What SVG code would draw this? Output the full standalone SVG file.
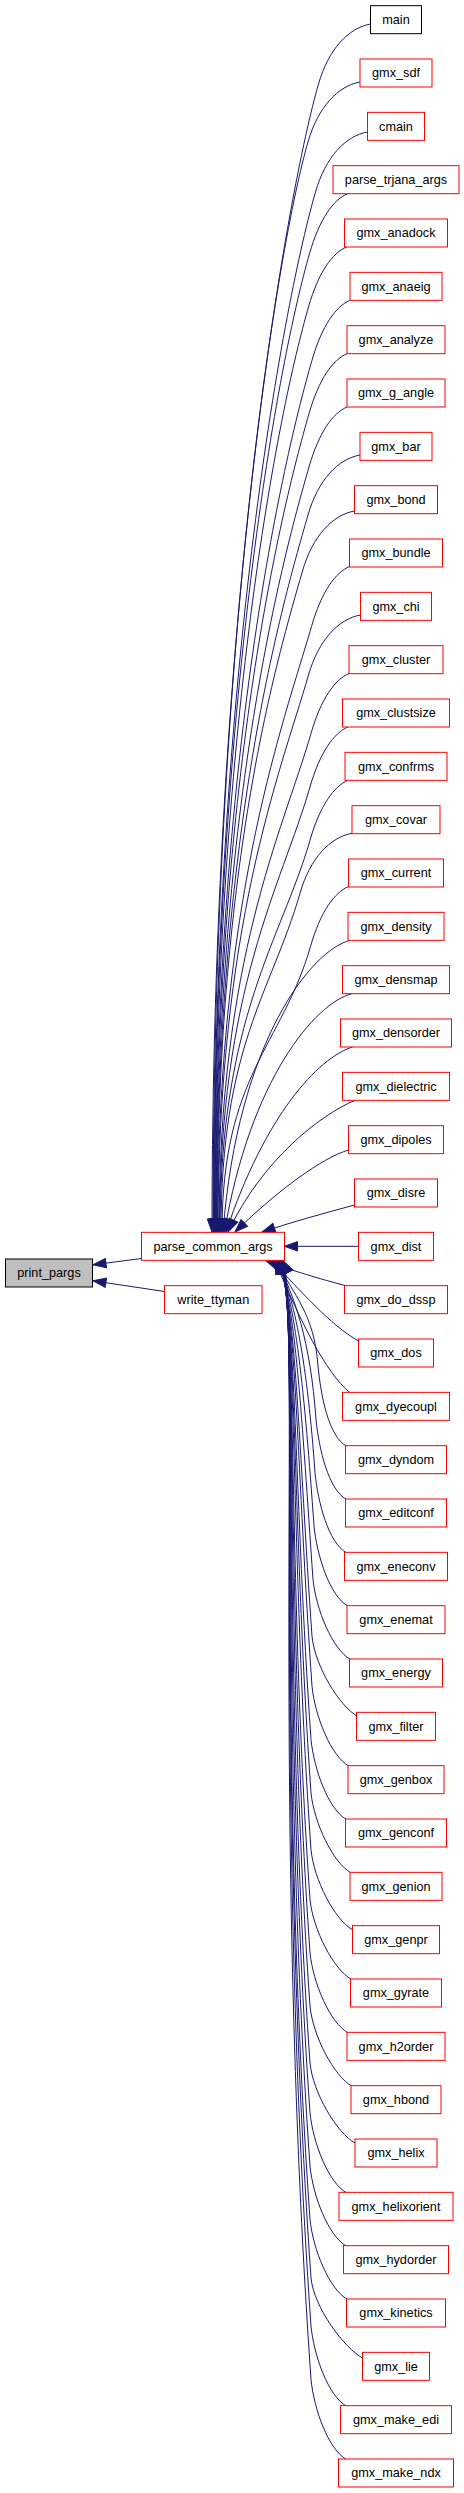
<svg xmlns="http://www.w3.org/2000/svg" width="464" height="2493" viewBox="0 0 464 2493">
<style>
.n rect{fill:#fff;stroke:#ff0000;stroke-width:1}
.n text{font-family:"Liberation Sans",Arial,Helvetica,sans-serif;font-size:12.7px;text-anchor:middle;fill:#000}
.e path{fill:none;stroke:#191970;stroke-width:1;marker-end:url(#ah)}
</style>
<defs>
<marker id="ah" viewBox="0 0 13 9.4" refX="13" refY="4.7" markerWidth="13" markerHeight="9.4" markerUnits="userSpaceOnUse" orient="auto" overflow="visible"><path d="M0,0 L13,4.7 L0,9.4 Z" fill="#191970" stroke="#191970" stroke-width="1"/></marker>
</defs>
<rect x="0" y="0" width="464" height="2493" fill="#fff"/>
<g id="edges" class="e">
<path d="M141.5,1258.5 L93,1264.8"/>
<path d="M164.5,1291.5 L93,1280.8"/>
<path d="M370.5,24 C348.5,28 328.5,49 318.5,84 C289.5,184 212,600.6 212,1232"/>
<path d="M360,82 C338,86 318,107 308,142 C279,242 213,632.5 213,1232"/>
<path d="M367.5,132 C345.5,136 325.5,157 315.5,192 C286.5,292 213.5,660 213.5,1232"/>
<path d="M347.5,193.7 C333.5,199.7 319.5,218.7 309.5,253.7 C280.5,353.7 214,694 214,1232"/>
<path d="M346.5,247 C332.5,253 318.5,272 308.5,307 C279.5,407 214.5,723.3 214.5,1232"/>
<path d="M350,300.3 C336,306.3 322,325.3 312,360.3 C283,460.3 215,752.6 215,1232"/>
<path d="M347,353.7 C333,359.7 319,378.7 309,413.7 C280,513.7 215.5,782 215.5,1232"/>
<path d="M347,407 C333,413 319,432 309,467 C280,567 216,811.3 216,1232"/>
<path d="M360,455 C338,459 318,480 308,515 C279,615 216.5,837.6 216.5,1232"/>
<path d="M354.5,511 C332.5,515 312.5,536 302.5,571 C273.5,671 217,868.5 217,1232"/>
<path d="M349.5,566.5 C335.5,572.5 321.5,591.5 311.5,626.5 C282.5,726.5 217.5,899 217.5,1232"/>
<path d="M360.5,615 C338.5,619 318.5,640 308.5,675 C279.5,775 218,925.7 218,1232"/>
<path d="M349,673.5 C335,679.5 321,698.5 311,733.5 C282,833.5 219,957.8 219,1232"/>
<path d="M348,727 C334,733 320,752 310,787 C281,887 219.5,987.3 219.5,1232"/>
<path d="M348,780.3 C334,786.3 320,805.3 310,840.3 C281,940.3 220,1016.6 220,1232"/>
<path d="M352,833.3 C330,837.3 310,858.3 300,893.3 C271,993.3 221,1045.7 221,1232"/>
<path d="M348.5,886.5 C334.5,892.5 320.5,911.5 310.5,946.5 C281.5,1046.4 222,1075 222,1232"/>
<path d="M350,940.3 C312,950 238,1040 223,1232"/>
<path d="M352,993.7 C315,1003 250,1080 224.5,1232"/>
<path d="M352.5,1047 C318,1058 265,1115 226,1232"/>
<path d="M355,1100.3 C320,1115 262,1160 228,1232"/>
<path d="M348.5,1150 C322,1158 278,1190 235,1232"/>
<path d="M354.5,1205 C325,1213 292,1222 262,1232"/>
<path d="M358.5,1246.3 L284.5,1246.3"/>
<path d="M347,1286 C320,1279 290,1270 266,1260.8"/>
<path d="M358.5,1341 C330,1325 300,1290 272,1261"/>
<path d="M350,1392.8 C325,1372 300,1320 275,1261"/>
<path d="M346.5,1446.2 C328.5,1436.2 321,1396.2 318,1366.2 C314.3,1313.4 294,1296 276,1260.5"/>
<path d="M346.5,1499.5 C328.5,1489.5 319,1449.5 316,1419.5 C310.4,1340 294.4,1296 276.4,1260.5"/>
<path d="M346.5,1552.8 C328.5,1542.8 318,1502.8 315,1472.8 C307.6,1366.7 294.7,1296 276.7,1260.5"/>
<path d="M348,1606.2 C330,1596.2 317,1556.2 314,1526.2 C304.7,1393.4 295.1,1296 277.1,1260.5"/>
<path d="M350.5,1659.5 C332.5,1649.5 316,1609.5 313,1579.5 C301.8,1420 295.4,1296 277.4,1260.5"/>
<path d="M357.5,1716.3 C339.5,1706.3 315,1666.3 312,1636.3 C298.8,1448.4 295.8,1296 277.8,1260.5"/>
<path d="M349,1766.2 C331,1756.2 315,1716.2 312,1686.2 C297.1,1473.4 296.1,1296 278.1,1260.5"/>
<path d="M346.5,1819.5 C328.5,1809.5 314,1769.5 311,1739.5 C294.2,1500 296.5,1296 278.5,1260.5"/>
<path d="M351,1872.8 C333,1862.8 314,1822.8 311,1792.8 C292.4,1526.7 296.8,1296 278.8,1260.5"/>
<path d="M352.5,1929.7 C334.5,1919.7 314,1879.7 311,1849.7 C290.4,1555.1 297.2,1296 279.2,1260.5"/>
<path d="M351.5,1979.5 C333.5,1969.5 313,1929.5 310,1899.5 C287.6,1580 297.5,1296 279.5,1260.5"/>
<path d="M348,2032.8 C330,2022.8 313,1982.8 310,1952.8 C285.8,1606.7 297.9,1296 279.9,1260.5"/>
<path d="M352,2086.2 C334,2076.2 313,2036.2 310,2006.2 C283.9,1633.4 298.2,1296 280.2,1260.5"/>
<path d="M355,2143 C337,2133 313,2093 310,2063 C281.9,1661.8 298.6,1296 280.6,1260.5"/>
<path d="M346.5,2192.8 C328.5,2182.8 313,2142.8 310,2112.8 C280.2,1686.7 298.9,1296 280.9,1260.5"/>
<path d="M346.5,2246.2 C328.5,2236.2 313,2196.2 310,2166.2 C278.3,1713.4 299.3,1296 281.3,1260.5"/>
<path d="M347.5,2299.5 C329.5,2289.5 313,2249.5 310,2219.5 C276.4,1740 299.6,1296 281.6,1260.5"/>
<path d="M362.5,2358 C344.5,2348 314,2308 311,2278 C275.4,1769.3 300,1296 282,1260.5"/>
<path d="M346.5,2406.2 C328.5,2396.2 314,2356.2 311,2326.2 C273.7,1793.4 300.3,1296 282.3,1260.5"/>
<path d="M346.5,2459.5 C328.5,2449.5 314,2409.5 311,2379.5 C271.8,1820 300.7,1296 282.7,1260.5"/>
</g>
<g id="print_pargs" class="n"><rect x="5.5" y="1259" width="87" height="28" style="fill:#bfbfbf;stroke:#000"/><text x="49" y="1277.3">print_pargs</text></g>
<g id="parse_common_args" class="n"><rect x="141.5" y="1232.33" width="143" height="28"/><text x="213" y="1250.63">parse_common_args</text></g>
<g id="write_ttyman" class="n"><rect x="164.5" y="1285.67" width="97.5" height="28"/><text x="213.25" y="1303.97">write_ttyman</text></g>
<g id="main" class="n"><rect x="370.5" y="5.67" width="51" height="28" style="stroke:#000"/><text x="396" y="23.97">main</text></g>
<g id="gmx_sdf" class="n"><rect x="360" y="59" width="72" height="28"/><text x="396" y="77.3">gmx_sdf</text></g>
<g id="cmain" class="n"><rect x="367.5" y="112.33" width="57" height="28"/><text x="396" y="130.63">cmain</text></g>
<g id="parse_trjana_args" class="n"><rect x="333" y="165.67" width="126" height="28"/><text x="396" y="183.97">parse_trjana_args</text></g>
<g id="gmx_anadock" class="n"><rect x="344.5" y="219" width="103" height="28"/><text x="396" y="237.3">gmx_anadock</text></g>
<g id="gmx_anaeig" class="n"><rect x="350" y="272.33" width="92" height="28"/><text x="396" y="290.63">gmx_anaeig</text></g>
<g id="gmx_analyze" class="n"><rect x="347" y="325.67" width="98" height="28"/><text x="396" y="343.97">gmx_analyze</text></g>
<g id="gmx_g_angle" class="n"><rect x="347" y="379" width="98" height="28"/><text x="396" y="397.3">gmx_g_angle</text></g>
<g id="gmx_bar" class="n"><rect x="360" y="432.33" width="72" height="28"/><text x="396" y="450.63">gmx_bar</text></g>
<g id="gmx_bond" class="n"><rect x="354.5" y="485.67" width="83" height="28"/><text x="396" y="503.97">gmx_bond</text></g>
<g id="gmx_bundle" class="n"><rect x="349.5" y="539" width="93" height="28"/><text x="396" y="557.3">gmx_bundle</text></g>
<g id="gmx_chi" class="n"><rect x="360.5" y="592.33" width="71" height="28"/><text x="396" y="610.63">gmx_chi</text></g>
<g id="gmx_cluster" class="n"><rect x="349" y="645.67" width="94" height="28"/><text x="396" y="663.97">gmx_cluster</text></g>
<g id="gmx_clustsize" class="n"><rect x="342.5" y="699" width="107" height="28"/><text x="396" y="717.3">gmx_clustsize</text></g>
<g id="gmx_confrms" class="n"><rect x="345" y="752.33" width="102" height="28"/><text x="396" y="770.63">gmx_confrms</text></g>
<g id="gmx_covar" class="n"><rect x="352" y="805.67" width="88" height="28"/><text x="396" y="823.97">gmx_covar</text></g>
<g id="gmx_current" class="n"><rect x="348.5" y="859" width="95" height="28"/><text x="396" y="877.3">gmx_current</text></g>
<g id="gmx_density" class="n"><rect x="348" y="912.33" width="96" height="28"/><text x="396" y="930.63">gmx_density</text></g>
<g id="gmx_densmap" class="n"><rect x="342.5" y="965.67" width="107" height="28"/><text x="396" y="983.97">gmx_densmap</text></g>
<g id="gmx_densorder" class="n"><rect x="340.5" y="1019" width="111" height="28"/><text x="396" y="1037.3">gmx_densorder</text></g>
<g id="gmx_dielectric" class="n"><rect x="342.5" y="1072.33" width="107" height="28"/><text x="396" y="1090.63">gmx_dielectric</text></g>
<g id="gmx_dipoles" class="n"><rect x="348.5" y="1125.67" width="95" height="28"/><text x="396" y="1143.97">gmx_dipoles</text></g>
<g id="gmx_disre" class="n"><rect x="354.5" y="1179" width="83" height="28"/><text x="396" y="1197.3">gmx_disre</text></g>
<g id="gmx_dist" class="n"><rect x="358.5" y="1232.33" width="75" height="28"/><text x="396" y="1250.63">gmx_dist</text></g>
<g id="gmx_do_dssp" class="n"><rect x="344.5" y="1285.67" width="103" height="28"/><text x="396" y="1303.97">gmx_do_dssp</text></g>
<g id="gmx_dos" class="n"><rect x="358.5" y="1339" width="75" height="28"/><text x="396" y="1357.3">gmx_dos</text></g>
<g id="gmx_dyecoupl" class="n"><rect x="342.5" y="1392.33" width="107" height="28"/><text x="396" y="1410.63">gmx_dyecoupl</text></g>
<g id="gmx_dyndom" class="n"><rect x="345.5" y="1445.67" width="101" height="28"/><text x="396" y="1463.97">gmx_dyndom</text></g>
<g id="gmx_editconf" class="n"><rect x="345.5" y="1499" width="101" height="28"/><text x="396" y="1517.3">gmx_editconf</text></g>
<g id="gmx_eneconv" class="n"><rect x="344.5" y="1552.33" width="103" height="28"/><text x="396" y="1570.63">gmx_eneconv</text></g>
<g id="gmx_enemat" class="n"><rect x="347" y="1605.67" width="98" height="28"/><text x="396" y="1623.97">gmx_enemat</text></g>
<g id="gmx_energy" class="n"><rect x="349.5" y="1659" width="93" height="28"/><text x="396" y="1677.3">gmx_energy</text></g>
<g id="gmx_filter" class="n"><rect x="356.5" y="1712.33" width="79" height="28"/><text x="396" y="1730.63">gmx_filter</text></g>
<g id="gmx_genbox" class="n"><rect x="348" y="1765.67" width="96" height="28"/><text x="396" y="1783.97">gmx_genbox</text></g>
<g id="gmx_genconf" class="n"><rect x="345.5" y="1819" width="101" height="28"/><text x="396" y="1837.3">gmx_genconf</text></g>
<g id="gmx_genion" class="n"><rect x="350" y="1872.33" width="92" height="28"/><text x="396" y="1890.63">gmx_genion</text></g>
<g id="gmx_genpr" class="n"><rect x="352.5" y="1925.67" width="87" height="28"/><text x="396" y="1943.97">gmx_genpr</text></g>
<g id="gmx_gyrate" class="n"><rect x="350.5" y="1979" width="91" height="28"/><text x="396" y="1997.3">gmx_gyrate</text></g>
<g id="gmx_h2order" class="n"><rect x="347" y="2032.33" width="98" height="28"/><text x="396" y="2050.63">gmx_h2order</text></g>
<g id="gmx_hbond" class="n"><rect x="351" y="2085.67" width="90" height="28"/><text x="396" y="2103.97">gmx_hbond</text></g>
<g id="gmx_helix" class="n"><rect x="355" y="2139" width="82" height="28"/><text x="396" y="2157.3">gmx_helix</text></g>
<g id="gmx_helixorient" class="n"><rect x="339" y="2192.33" width="114" height="28"/><text x="396" y="2210.63">gmx_helixorient</text></g>
<g id="gmx_hydorder" class="n"><rect x="343.5" y="2245.67" width="105" height="28"/><text x="396" y="2263.97">gmx_hydorder</text></g>
<g id="gmx_kinetics" class="n"><rect x="346.5" y="2299" width="99" height="28"/><text x="396" y="2317.3">gmx_kinetics</text></g>
<g id="gmx_lie" class="n"><rect x="362.5" y="2352.33" width="67" height="28"/><text x="396" y="2370.63">gmx_lie</text></g>
<g id="gmx_make_edi" class="n"><rect x="340.5" y="2405.67" width="111" height="28"/><text x="396" y="2423.97">gmx_make_edi</text></g>
<g id="gmx_make_ndx" class="n"><rect x="338.5" y="2459" width="115" height="28"/><text x="396" y="2477.3">gmx_make_ndx</text></g>
</svg>
